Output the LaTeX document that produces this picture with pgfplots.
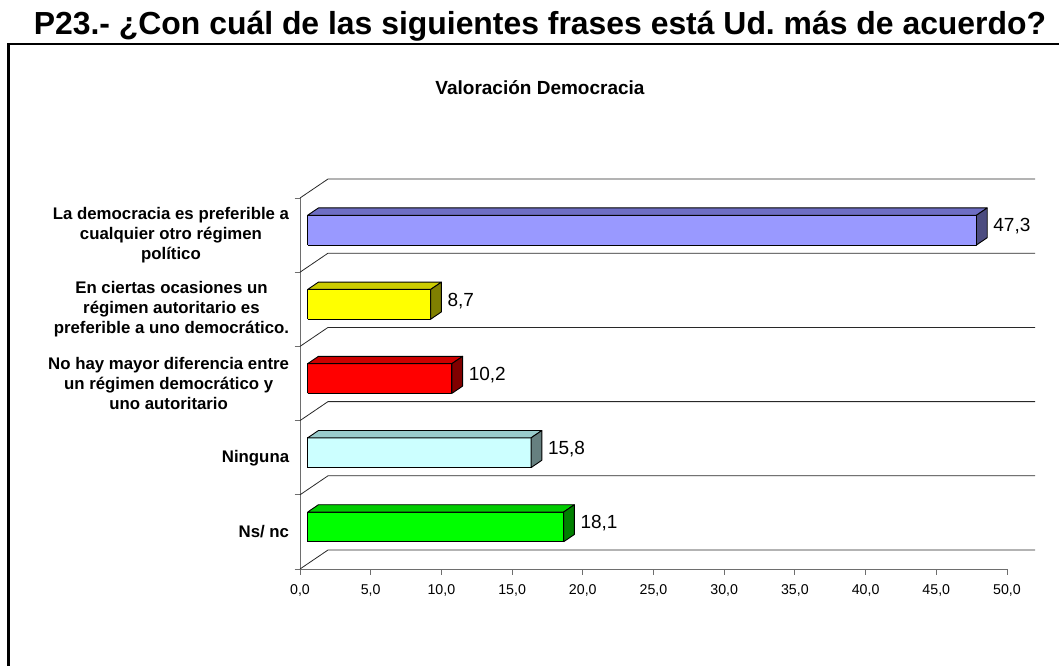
\documentclass[border=0pt]{standalone}
\usepackage{pgfplots}
\pgfplotsset{compat=1.18}
\usepackage{pgfplotstable}
\usepackage{fontspec}
\setmainfont{Liberation Sans}

% colours by band position (0 = bottom ... 4 = top)
\definecolor{front4}{RGB}{153,153,255}\definecolor{top4}{RGB}{110,110,196}\definecolor{side4}{RGB}{76,76,128}
\definecolor{front3}{RGB}{255,255,0}\definecolor{top3}{RGB}{204,204,0}\definecolor{side3}{RGB}{128,128,0}
\definecolor{front2}{RGB}{255,0,0}\definecolor{top2}{RGB}{204,0,0}\definecolor{side2}{RGB}{128,0,0}
\definecolor{front1}{RGB}{204,255,255}\definecolor{top1}{RGB}{153,204,204}\definecolor{side1}{RGB}{102,128,128}
\definecolor{front0}{RGB}{0,255,0}\definecolor{top0}{RGB}{0,204,0}\definecolor{side0}{RGB}{0,128,0}
\definecolor{gridc}{RGB}{40,40,40}
\definecolor{axisc}{RGB}{110,110,110}

\pgfplotstableread{
pos value
4 47.3
3 8.7
2 10.2
1 15.8
0 18.1
}\datatable

\newcommand\valfont{\fontsize{19}{22}\selectfont}
\def\DX{1.98}\def\DY{0.256}
\def\xo{0.545}\def\ybot{0.367}\def\ytop{0.768}
\def\ddx{0.756}\def\ddy{0.098}

\begin{document}
\begin{tikzpicture}
\useasboundingbox (0,0) rectangle (1059pt,665pt);
% frame
\draw[line width=2.8pt] (8.7pt,-2pt) -- (8.7pt,621pt) -- (1062pt,621pt);
% main title
\node[anchor=base, inner sep=0pt, font=\fontsize{31.9}{36}\selectfont\bfseries] at (540pt,630pt)
  {P23.- ¿Con cuál de las siguientes frases está Ud.\ más de acuerdo?};
\node[anchor=base, inner sep=0pt, font=\fontsize{19}{22}\selectfont\bfseries] at (540pt,570.3pt)
  {Valoración Democracia};
\begin{axis}[
  at={(300pt,96pt)}, anchor=south west,
  scale only axis, width=707pt, height=371pt,
  xmin=0, xmax=50, ymin=0, ymax=5,
  clip=false,
  axis x line*=bottom, axis y line*=left,
  axis line style={axisc, line width=0.9pt},
  tick style={axisc, line width=0.9pt},
  tick align=outside,
  major tick length=5.5pt,
  xtick={0,5,...,50},
  scaled x ticks=false,
  ytick={0,1,...,5}, yticklabels={,,,,,},
  extra y ticks={0.5,1.5,2.5,3.5,4.5},
  extra y tick labels={{Ns/ nc},{Ninguna},{No hay mayor diferencia entre\\un régimen democrático y\\uno autoritario},{En ciertas ocasiones un\\régimen autoritario es\\preferible a uno democrático.},{La democracia es preferible a\\cualquier otro régimen\\político}},
  extra y tick style={major tick length=0pt},
  yticklabel style={font=\fontsize{16.8}{20}\selectfont\bfseries, align=center, anchor=east, inner sep=0pt, xshift=-10.7pt},
  xticklabel style={font=\fontsize{14.2}{16}\selectfont, anchor=north, inner sep=0pt, yshift=-10pt},
  /pgf/number format/fixed,
  /pgf/number format/fixed zerofill,
  /pgf/number format/precision=1,
  /pgf/number format/use comma,
  /pgf/number format/assume math mode=true,
]
% back grid: diagonals from the front ticks and horizontal back lines
\pgfplotsinvokeforeach{0,1,2,3,4,5}{
  \draw[gridc, line width=0.8pt] (axis cs:0,#1) -- (axis cs:\DX,#1+\DY) -- (axis cs:50+\DX,#1+\DY);
}
% 3D bars
\pgfplotsforeachungrouped \r in {0,...,4}{%
  \pgfplotstablegetelem{\r}{pos}\of\datatable \let\bpos\pgfplotsretval
  \pgfplotstablegetelem{\r}{value}\of\datatable \let\bval\pgfplotsretval
  \pgfmathsetmacro\xa{\xo}
  \pgfmathsetmacro\xb{\xo+\bval}
  \pgfmathsetmacro\ya{\bpos+\ybot}
  \pgfmathsetmacro\yc{\bpos+\ytop}
  \pgfmathsetmacro\xc{\xa+\ddx}
  \pgfmathsetmacro\xd{\xb+\ddx}
  \pgfmathsetmacro\yd{\ya+\ddy}
  \pgfmathsetmacro\ye{\yc+\ddy}
  \pgfmathsetmacro\ym{(\ya+\ye)/2}
  \edef\tmp{%
    \noexpand\addplot[draw=black, fill=front\bpos, line width=0.9pt, line join=round] coordinates {(\xa,\ya) (\xb,\ya) (\xb,\yc) (\xa,\yc) (\xa,\ya)};
    \noexpand\addplot[draw=black, fill=top\bpos, line width=0.9pt, line join=round] coordinates {(\xa,\yc) (\xb,\yc) (\xd,\ye) (\xc,\ye) (\xa,\yc)};
    \noexpand\addplot[draw=black, fill=side\bpos, line width=0.9pt, line join=round] coordinates {(\xb,\ya) (\xd,\yd) (\xd,\ye) (\xb,\yc) (\xb,\ya)};
    \noexpand\node[anchor=west, inner sep=0pt, xshift=6pt, font=\noexpand\valfont] at (axis cs:\xd,\ym) {\noexpand\pgfmathprintnumber[fixed,fixed zerofill,precision=1,use comma,assume math mode=true]{\bval}};
  }%
  \tmp
}
\end{axis}
\end{tikzpicture}
\end{document}
